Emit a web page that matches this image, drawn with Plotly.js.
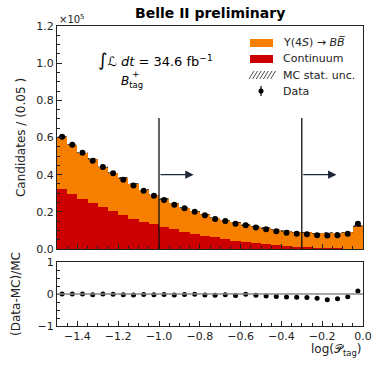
<!DOCTYPE html>
<html>
<head>
<meta charset="utf-8">
<script src="https://cdn.plot.ly/plotly-3.0.1.min.js"></script>
<style>
  body { margin: 0; background: #fff; }
  #chart { width: 381px; height: 368px; }
</style>
</head>
<body>
<div id="chart"></div>
<script>
// bin centres of log(P_tag), width 0.05
var binCenters = [-1.475, -1.425, -1.375, -1.325, -1.275, -1.225, -1.175, -1.125, -1.075, -1.025,
  -0.975, -0.925, -0.875, -0.825, -0.775, -0.725, -0.675, -0.625, -0.575, -0.525,
  -0.475, -0.425, -0.375, -0.325, -0.275, -0.225, -0.175, -0.125, -0.075, -0.025];
// all counts in units of 1e5
var continuum = [0.321, 0.294, 0.269, 0.248, 0.224, 0.205, 0.183, 0.163, 0.147, 0.133,
  0.117, 0.106, 0.090, 0.081, 0.070, 0.063, 0.052, 0.045, 0.038, 0.032,
  0.025, 0.020, 0.016, 0.012, 0.009, 0.006, 0.005, 0.003, 0.002, 0.001];
var bbbar = [0.283, 0.267, 0.249, 0.237, 0.217, 0.206, 0.198, 0.189, 0.173, 0.160,
  0.152, 0.139, 0.133, 0.122, 0.117, 0.105, 0.102, 0.098, 0.091, 0.088,
  0.088, 0.083, 0.081, 0.079, 0.080, 0.079, 0.083, 0.084, 0.088, 0.123];
var mcErr = [0.004, 0.004, 0.004, 0.004, 0.004, 0.004, 0.004, 0.004, 0.003, 0.003,
  0.003, 0.003, 0.003, 0.003, 0.003, 0.003, 0.003, 0.003, 0.003, 0.003,
  0.003, 0.003, 0.003, 0.003, 0.003, 0.003, 0.003, 0.003, 0.003, 0.004];
var dataCounts = [0.604, 0.561, 0.518, 0.475, 0.441, 0.407, 0.373, 0.341, 0.314, 0.287,
  0.264, 0.238, 0.219, 0.201, 0.181, 0.161, 0.151, 0.136, 0.128, 0.115,
  0.106, 0.095, 0.088, 0.082, 0.079, 0.074, 0.072, 0.074, 0.082, 0.136];
var yTicks = [0, 0.2, 0.4, 0.6, 0.8, 1.0, 1.2];
var yTickText = ["0.0", "0.2", "0.4", "0.6", "0.8", "1.0", "1.2"];
var xTicks = [-1.4, -1.2, -1.0, -0.8, -0.6, -0.4, -0.2, 0.0];
var xTickText = ["\u22121.4", "\u22121.2", "\u22121.0", "\u22120.8", "\u22120.6", "\u22120.4", "\u22120.2", "0.0"];
var legendLabels = ["\u03a5(4<i>S</i>) \u2192 <i>B</i><i>B\u0305</i>", "Continuum", "MC stat. unc.", "Data"];

var mcTotal = [], uncBase = [], uncHeight = [], ratio = [];
for (var i = 0; i < binCenters.length; i++) {
  mcTotal.push(continuum[i] + bbbar[i]);
  uncBase.push(mcTotal[i] - mcErr[i]);
  uncHeight.push(2 * mcErr[i]);
  ratio.push((dataCounts[i] - mcTotal[i]) / mcTotal[i]);
}

var font = "DejaVu Sans, sans-serif";
var orange = "#f77f00";
var red = "#cc0000";

// page pixel -> paper coords (plot area 57..363 x 26..326)
function px(x) { return (x - 57) / 306; }
function py(y) { return (326 - y) / 300; }

var traces = [
  {
    type: "bar", x: binCenters, y: continuum, width: 0.05,
    name: "Continuum", showlegend: false,
    marker: { color: red, line: { width: 0 } },
    xaxis: "x", yaxis: "y", hoverinfo: "skip",
  },
  {
    type: "bar", x: binCenters, y: bbbar, base: continuum, width: 0.05,
    name: "BB", showlegend: false,
    marker: { color: orange, line: { width: 0 } },
    xaxis: "x", yaxis: "y", hoverinfo: "skip",
  },
  {
    type: "bar", x: binCenters, y: uncHeight, base: uncBase, width: 0.05,
    name: "MC stat. unc.", showlegend: false,
    marker: {
      color: "rgba(0,0,0,0)",
      line: { width: 0 },
      pattern: { shape: "/", fgcolor: "#222", bgcolor: "rgba(255,255,255,0)", size: 4, solidity: 0.4 },
    },
    xaxis: "x", yaxis: "y", hoverinfo: "skip",
  },
  {
    type: "scatter", mode: "markers", x: binCenters, y: dataCounts,
    name: "Data", showlegend: false,
    marker: { color: "black", size: 6 },
    xaxis: "x", yaxis: "y",
  },
  {
    type: "scatter", mode: "markers", x: binCenters, y: ratio,
    showlegend: false,
    marker: { color: "black", size: 5 },
    xaxis: "x2", yaxis: "y2",
  },
];

var axisBase = {
  showline: true, linecolor: "#222", linewidth: 1, mirror: true,
  ticks: "inside", ticklen: 5, tickwidth: 1, tickcolor: "#222",
  showgrid: false, zeroline: false,
  tickfont: { family: font, size: 11, color: "#222" },
};

var shapes = [
  { type: "line", xref: "x", yref: "y", x0: -1.0, x1: -1.0, y0: 0, y1: 0.705, line: { color: "#111", width: 1.3 } },
  { type: "line", xref: "x", yref: "y", x0: -0.3, x1: -0.3, y0: 0, y1: 0.705, line: { color: "#111", width: 1.3 } },
  { type: "line", xref: "x2", yref: "y2", x0: -1.5, x1: 0, y0: 0, y1: 0, line: { color: "#888", width: 1.5 } },
  // legend swatches
  { type: "rect", xref: "paper", yref: "paper", x0: px(250), x1: px(273), y0: py(47), y1: py(39), fillcolor: orange, line: { width: 0 } },
  { type: "rect", xref: "paper", yref: "paper", x0: px(250), x1: px(273), y0: py(63), y1: py(55), fillcolor: red, line: { width: 0 } },
  { type: "line", xref: "paper", yref: "paper", x0: px(261), x1: px(261), y0: py(96), y1: py(86), line: { color: "black", width: 1.2 } },
  { type: "circle", xref: "paper", yref: "paper", x0: px(258.5), x1: px(263.5), y0: py(93.5), y1: py(88.5), fillcolor: "black", line: { width: 0 } },
];
for (var h = 0; h < 7; h++) {
  shapes.push({ type: "line", xref: "paper", yref: "paper",
    x0: px(249 + h * 3.6), x1: px(254 + h * 3.6), y0: py(79), y1: py(71),
    line: { color: "#222", width: 0.8 } });
}

var annotations = [
  { text: "<b>Belle II preliminary</b>", xref: "paper", yref: "paper", x: 0.5, y: 1.045, xanchor: "center", yanchor: "middle", showarrow: false, font: { family: font, size: 14, color: "black" } },
  { text: "\u00d710<sup>5</sup>", xref: "paper", yref: "paper", x: 0, y: 1.025, xanchor: "left", yanchor: "middle", showarrow: false, font: { family: font, size: 10, color: "#222" } },
  { text: "<span style='font-size:18px'>\u222b</span><i>\u2112</i> <i>dt</i> = 34.6 fb<sup>\u22121</sup>", xref: "x", yref: "y", x: -1.31, y: 1.02, xanchor: "left", yanchor: "middle", showarrow: false, font: { family: font, size: 13, color: "black" } },
  { text: "<i>B</i><sub>tag</sub>", xref: "x", yref: "y", x: -1.195, y: 0.9, xanchor: "left", yanchor: "middle", showarrow: false, font: { family: font, size: 12, color: "black" } },
  { text: "+", xref: "x", yref: "y", x: -1.14, y: 0.94, xanchor: "left", yanchor: "middle", showarrow: false, font: { family: font, size: 9, color: "black" } },
  { text: "log(\ud835\udcab<sub>tag</sub>)", xref: "paper", yref: "paper", x: 1, y: -0.08, xanchor: "right", yanchor: "middle", showarrow: false, font: { family: font, size: 12, color: "#222" } },
  { text: "", xref: "x", yref: "y", axref: "x", ayref: "y", x: -0.83, y: 0.4, ax: -1.0, ay: 0.4, showarrow: true, arrowhead: 2, arrowsize: 1.4, arrowwidth: 1.2, arrowcolor: "#1b2636" },
  { text: "", xref: "x", yref: "y", axref: "x", ayref: "y", x: -0.13, y: 0.4, ax: -0.3, ay: 0.4, showarrow: true, arrowhead: 2, arrowsize: 1.4, arrowwidth: 1.2, arrowcolor: "#1b2636" },
];
var rowY = [43, 59, 75, 91];
for (var k = 0; k < legendLabels.length; k++) {
  annotations.push({ text: legendLabels[k], xref: "paper", yref: "paper", x: px(281), y: py(rowY[k]),
    xanchor: "left", yanchor: "middle", showarrow: false, font: { family: font, size: 11, color: "#222" } });
}

var layout = {
  width: 381, height: 368,
  margin: { l: 57, r: 18, t: 26, b: 42 },
  paper_bgcolor: "white", plot_bgcolor: "white",
  barmode: "overlay", bargap: 0,
  showlegend: false,
  xaxis: Object.assign({}, axisBase, {
    range: [-1.5, 0], tickvals: xTicks, showticklabels: false,
    anchor: "y", domain: [0, 1],
    minor: { ticks: "inside", ticklen: 3, dtick: 0.05, tickcolor: "#222" },
  }),
  yaxis: Object.assign({}, axisBase, {
    range: [0, 1.2], tickvals: yTicks, ticktext: yTickText,
    domain: [0.2567, 1], anchor: "x",
    minor: { ticks: "inside", ticklen: 3, dtick: 0.05, tickcolor: "#222" },
    title: { text: "Candidates / (0.05 )", font: { family: font, size: 12, color: "#222" }, standoff: 8 },
  }),
  xaxis2: Object.assign({}, axisBase, {
    range: [-1.5, 0], tickvals: xTicks, ticktext: xTickText,
    anchor: "y2", domain: [0, 1],
    minor: { ticks: "inside", ticklen: 3, dtick: 0.05, tickcolor: "#222" },
  }),
  yaxis2: Object.assign({}, axisBase, {
    range: [-1, 1], tickvals: [-1, 0, 1], ticktext: ["\u22121", "0", "1"],
    domain: [0, 0.2133], anchor: "x2",
    minor: { ticks: "inside", ticklen: 3, dtick: 0.25, tickcolor: "#222" },
    title: { text: "(Data-MC)/MC", font: { family: font, size: 12, color: "#222" }, standoff: 14 },
  }),
  shapes: shapes,
  annotations: annotations,
};

Plotly.newPlot("chart", traces, layout, { displayModeBar: false, staticPlot: true });
</script>
</body>
</html>
